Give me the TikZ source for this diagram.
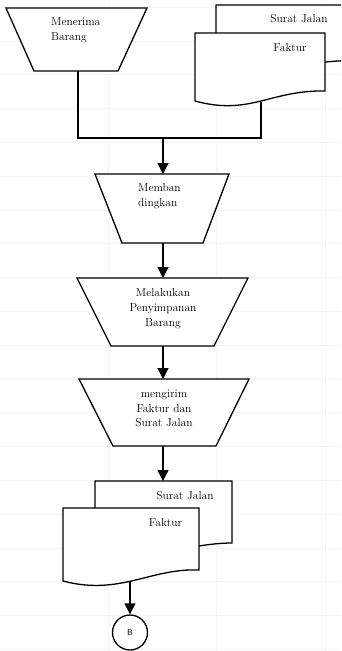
\documentclass[tikz,border=0pt]{standalone}
\usetikzlibrary{arrows.meta}
\begin{document}
\begin{tikzpicture}[x=1pt,y=-1pt,
  shp/.style={draw=black, line width=1.3pt, fill=white, line join=miter},
  conn/.style={draw=black, line width=1.3pt},
  arr/.style={conn, -{Triangle[width=11pt,length=11pt]}},
  lbl/.style={font=\fontsize{11.5}{14.8}\selectfont, inner sep=0pt},
  gridline/.style={draw=black!4, line width=0.6pt}]
\useasboundingbox (0,0) rectangle (341,651);
\clip (0,0) rectangle (341,651);
\fill[white] (0,0) rectangle (341,651);
% faint sheet grid
\foreach \yy in {7,40.8,...,651} \draw[gridline] (0,\yy) -- (341,\yy);
\foreach \xx in {108,216.5,325} \draw[gridline] (\xx,0) -- (\xx,651);

% coordinates for connectors
\coordinate (t1b) at (78,71);
\coordinate (d1b) at (261,102);
\coordinate (jl) at (78,138);
\coordinate (jr) at (261,138);
\coordinate (jm) at (163,138);
\coordinate (t2t) at (163,174);
\coordinate (t2b) at (163,243);
\coordinate (t3t) at (163,278);
\coordinate (t3b) at (163,346);
\coordinate (t4t) at (163,379);
\coordinate (t4b) at (163,446);
\coordinate (d2t) at (163,481);
\coordinate (d2b) at (130,582);

% Menerima Barang
\draw[shp] (6,8) -- (147,8) -- (118,71) -- (34,71) -- cycle;
\node[lbl, anchor=west, align=left] (tx1) at (51,30.5) {Menerima\\Barang};

% top documents
\draw[shp] (216,5) -- (360,5) -- (360,61) .. controls (300,58) and (280,80) .. (216,73) -- cycle;
\draw[shp] (195,33) -- (325,33) -- (325,91) .. controls (270,90) and (250,116) .. (195,101) -- cycle;
\node[lbl] (sj1) at (299,19) {Surat Jalan};
\node[lbl] (fk1) at (290,48) {Faktur};

% Membandingkan
\draw[shp] (95,174) -- (229,174) -- (203,243) -- (122,243) -- cycle;
\node[lbl, anchor=west, align=left] (tx2) at (138,196.5) {Memban\\dingkan};

% Melakukan Penyimpanan Barang
\draw[shp] (77,278) -- (248,278) -- (214,346) -- (111,346) -- cycle;
\node[lbl, align=center] (tx3) at (163,308.5) {Melakukan\\Penyimpanan\\Barang};

% mengirim Faktur dan Surat Jalan
\draw[shp] (79,379) -- (249,379) -- (216,446) -- (113,446) -- cycle;
\node[lbl, align=center] (tx4) at (164,408.5) {mengirim\\Faktur dan\\Surat Jalan};

% bottom documents
\draw[shp] (95,481) -- (232,481) -- (232,543) .. controls (190,543) and (160,560) .. (95,553) -- cycle;
\draw[shp] (63,508) -- (199,508) -- (199,570) .. controls (150,568) and (120,596) .. (63,581) -- cycle;
\node[lbl] (sj2) at (185,496) {Surat Jalan};
\node[lbl] (fk2) at (165.5,523) {Faktur};

% connector B
\node[draw, circle, line width=1.3pt, minimum size=35pt, inner sep=0pt, fill=white,
      font=\sffamily\fontsize{8.5}{8.5}\selectfont] (B) at (130,632.5) {B};

% connectors (drawn last so arrow tips stay visible)
\draw[conn] (t1b) -- (jl) -- (jr) -- (d1b);
\draw[arr] (jm) -- (t2t);
\draw[arr] (t2b) -- (t3t);
\draw[arr] (t3b) -- (t4t);
\draw[arr] (t4b) -- (d2t);
\draw[arr] (d2b) -- (B.north);
\end{tikzpicture}
\end{document}
